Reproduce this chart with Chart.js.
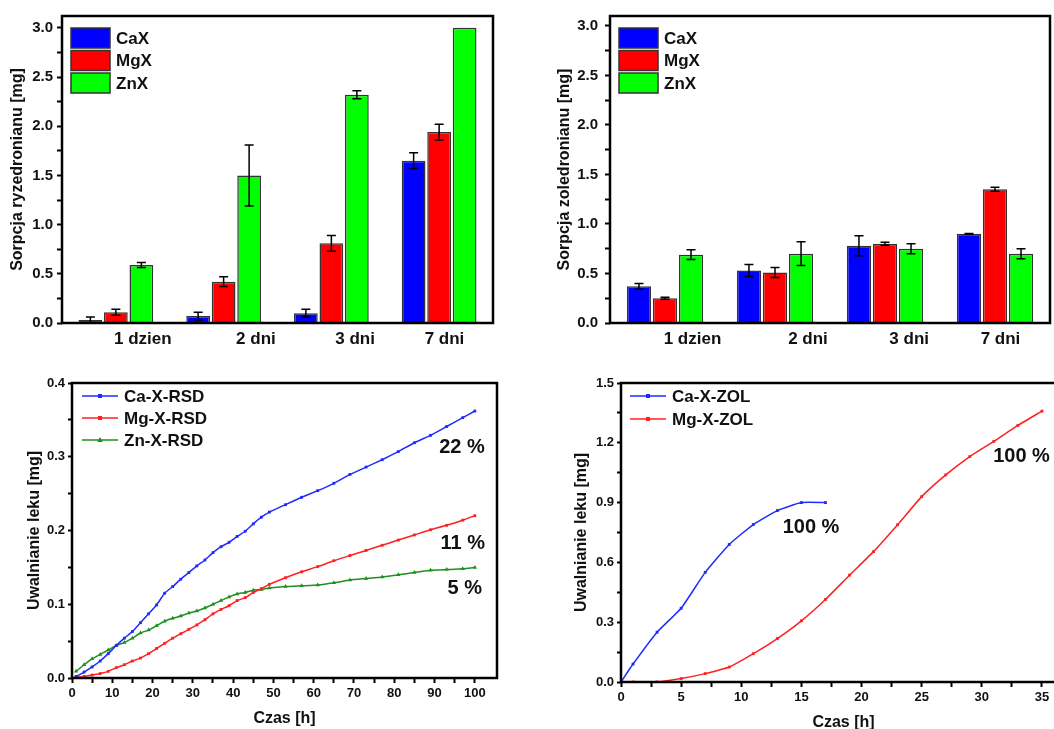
<!DOCTYPE html>
<html>
<head>
<meta charset="utf-8">
<script src="https://cdn.jsdelivr.net/npm/chart.js@4.4.0/dist/chart.umd.min.js"></script>
<style>
    html, body { margin: 0; padding: 0; background: #fff; }
    body { width: 1054px; height: 729px; overflow: hidden; position: relative; }
    canvas { position: absolute; }
</style>
</head>
<body>
<canvas id="sorp-rsd" width="527" height="360" style="left:0;top:0"></canvas>
<canvas id="sorp-zol" width="527" height="360" style="left:527px;top:0"></canvas>
<canvas id="rel-rsd" width="527" height="369" style="left:0;top:360px"></canvas>
<canvas id="rel-zol" width="545" height="373" style="left:527px;top:360px"></canvas>
<script>
// === Data: sorption (bars) ===
const days = ["1 dzien", "2 dni", "3 dni", "7 dni"];
const dayLabelShift = [0.25, 0.3, 0.22, 0.05];

const rsdCaX = [0.03, 0.07, 0.10, 1.65];
const rsdCaXErr = [0.03, 0.04, 0.04, 0.08];
const rsdMgX = [0.11, 0.42, 0.81, 1.94];
const rsdMgXErr = [0.03, 0.05, 0.08, 0.08];
const rsdZnX = [0.59, 1.50, 2.32, 3.00];
const rsdZnXErr = [0.025, 0.31, 0.04, 0];

const zolCaX = [0.37, 0.53, 0.78, 0.90];
const zolCaXErr = [0.03, 0.06, 0.10, 0.005];
const zolMgX = [0.25, 0.51, 0.80, 1.35];
const zolMgXErr = [0.01, 0.05, 0.015, 0.02];
const zolZnX = [0.69, 0.70, 0.75, 0.70];
const zolZnXErr = [0.05, 0.12, 0.05, 0.05];

const sorpTicks = [0, 0.5, 1.0, 1.5, 2.0, 2.5, 3.0];

// === Data: release (lines) ===
const rsdHours = [1, 3, 5, 7, 9, 11, 13, 15, 17, 19, 21, 23, 25, 27, 29, 31, 33, 35, 37, 39, 41, 43, 45, 47, 49,
    53, 57, 61, 65, 69, 73, 77, 81, 85, 89, 93, 97, 100];
const relCaRsd = [0.002, 0.008, 0.015, 0.023, 0.033, 0.044, 0.054, 0.063, 0.075, 0.087, 0.099, 0.115, 0.124,
    0.134, 0.143, 0.152, 0.160, 0.170, 0.178, 0.184, 0.192, 0.199, 0.209, 0.218, 0.225,
    0.235, 0.245, 0.254, 0.264, 0.276, 0.286, 0.296, 0.307, 0.319, 0.329, 0.341, 0.353, 0.362];
const relMgRsd = [0.001, 0.002, 0.004, 0.006, 0.009, 0.014, 0.018, 0.023, 0.027, 0.033, 0.040, 0.047, 0.054,
    0.060, 0.066, 0.072, 0.079, 0.087, 0.093, 0.098, 0.105, 0.109, 0.116, 0.121, 0.127,
    0.136, 0.144, 0.151, 0.159, 0.166, 0.173, 0.180, 0.187, 0.194, 0.201, 0.207, 0.214, 0.220];
const relZnRsd = [0.009, 0.018, 0.026, 0.032, 0.038, 0.044, 0.048, 0.054, 0.061, 0.065, 0.071, 0.077, 0.081,
    0.084, 0.088, 0.091, 0.095, 0.100, 0.105, 0.110, 0.114, 0.116, 0.119, 0.120, 0.122,
    0.124, 0.125, 0.126, 0.129, 0.133, 0.135, 0.137, 0.140, 0.143, 0.146, 0.147, 0.148, 0.150];
const rsdXTicks = [0, 10, 20, 30, 40, 50, 60, 70, 80, 90, 100];
const rsdYTicks = [0, 0.1, 0.2, 0.3, 0.4];

const zolHoursCa = [0, 1, 3, 5, 7, 9, 11, 13, 15, 17];
const relCaZol = [0, 0.09, 0.25, 0.37, 0.55, 0.69, 0.79, 0.86, 0.90, 0.90];
const zolHoursMg = [0, 1, 3, 5, 7, 9, 11, 13, 15, 17, 19, 21, 23, 25, 27, 29, 31, 33, 35];
const relMgZol = [0, 0, 0, 0.017, 0.042, 0.075, 0.142, 0.218, 0.307, 0.414, 0.536, 0.654, 0.789, 0.930,
    1.039, 1.131, 1.207, 1.287, 1.359];
const zolXTicks = [0, 5, 10, 15, 20, 25, 30, 35];
const zolYTicks = [0, 0.3, 0.6, 0.9, 1.2, 1.5];

// === Styling helpers ===
const FONT = "'Liberation Sans', Arial, Helvetica, sans-serif";
const INK = "#111";
const bold = (size) => ({ family: FONT, size, weight: "bold" });

const withMinor = (majors) => {
    const out = [];
    majors.forEach((v, i) => {
        out.push(v);
        if (i < majors.length - 1) out.push((v + majors[i + 1]) / 2);
    });
    return out;
};

const tickGrid = (len) => ({
    drawOnChartArea: false,
    drawTicks: true,
    tickLength: len,
    tickWidth: 2,
    tickColor: "#000",
});

const valueAxis = (majors, min, max, opts) => ({
    type: "linear",
    min,
    max,
    offset: false,
    position: opts.position,
    afterBuildTicks: (s) => { s.ticks = withMinor(majors).map((v) => ({ value: v })); },
    afterFit: (s) => {
        if (opts.position === "left") s.width = opts.size;
        else s.height = opts.size;
    },
    ticks: {
        autoSkip: false,
        maxRotation: 0,
        padding: opts.pad,
        color: INK,
        font: bold(opts.font),
        callback: (v) => (majors.includes(v) ? opts.fmt(v) : ""),
    },
    grid: tickGrid(opts.tick),
    border: { display: false },
    title: {
        display: true,
        text: opts.title,
        color: INK,
        font: bold(16),
        padding: opts.titlePad,
    },
});

// === Plugins ===
const framePlugin = {
    id: "frame",
    afterDraw(chart) {
        const { ctx, chartArea: a } = chart;
        ctx.save();
        ctx.lineWidth = 2.5;
        ctx.strokeStyle = "#000";
        ctx.strokeRect(a.left, a.top, a.right - a.left, a.bottom - a.top);
        ctx.restore();
    },
};

const errorBarPlugin = {
    id: "errorBars",
    afterDatasetsDraw(chart) {
        const { ctx } = chart;
        const yScale = chart.scales.y;
        ctx.save();
        ctx.strokeStyle = "#000";
        ctx.lineWidth = 1.5;
        chart.data.datasets.forEach((ds, i) => {
            if (!ds.errors) return;
            chart.getDatasetMeta(i).data.forEach((bar, j) => {
                const err = ds.errors[j];
                if (!err) return;
                const v = ds.data[j];
                const top = yScale.getPixelForValue(v + err);
                const bot = yScale.getPixelForValue(Math.max(0, v - err));
                const cap = 4.5;
                ctx.beginPath();
                ctx.moveTo(bar.x, top); ctx.lineTo(bar.x, bot);
                ctx.moveTo(bar.x - cap, top); ctx.lineTo(bar.x + cap, top);
                ctx.moveTo(bar.x - cap, bot); ctx.lineTo(bar.x + cap, bot);
                ctx.stroke();
            });
        });
        ctx.restore();
    },
};

const drawMarker = (ctx, style, x, y, r, color) => {
    ctx.fillStyle = color;
    ctx.beginPath();
    if (style === "triangle") {
        ctx.moveTo(x, y - r * 1.2);
        ctx.lineTo(x + r * 1.1, y + r * 0.8);
        ctx.lineTo(x - r * 1.1, y + r * 0.8);
        ctx.closePath();
    } else {
        ctx.rect(x - r, y - r, r * 2, r * 2);
    }
    ctx.fill();
};

const boxLegend = (cfg) => ({
    id: "boxLegend",
    afterDraw(chart) {
        const { ctx, chartArea: a } = chart;
        ctx.save();
        ctx.font = `bold 17px ${FONT}`;
        ctx.textBaseline = "middle";
        ctx.fillStyle = INK;
        chart.data.datasets.forEach((ds, i) => {
            const x = a.left + cfg.dx;
            const y = a.top + cfg.dy + i * cfg.gap;
            if (cfg.kind === "bar") {
                ctx.fillStyle = ds.backgroundColor;
                ctx.fillRect(x, y, cfg.w, cfg.h);
                ctx.strokeStyle = "#333";
                ctx.lineWidth = 1.5;
                ctx.strokeRect(x, y, cfg.w, cfg.h);
                ctx.fillStyle = INK;
                ctx.fillText(ds.label, x + cfg.w + cfg.textGap, y + cfg.h / 2 + 1);
            } else {
                ctx.strokeStyle = ds.borderColor;
                ctx.lineWidth = 1.5;
                ctx.beginPath();
                ctx.moveTo(x, y);
                ctx.lineTo(x + cfg.w, y);
                ctx.stroke();
                drawMarker(ctx, ds.pointStyle, x + cfg.w / 2, y, ds.pointRadius, ds.borderColor);
                ctx.fillStyle = INK;
                ctx.fillText(ds.label, x + cfg.w + cfg.textGap, y + 1);
            }
        });
        ctx.restore();
    },
});

const notesPlugin = (notes) => ({
    id: "notes",
    afterDraw(chart) {
        const { ctx, scales } = chart;
        ctx.save();
        ctx.font = `bold 20px ${FONT}`;
        ctx.textAlign = "center";
        ctx.textBaseline = "middle";
        ctx.fillStyle = INK;
        notes.forEach((n) => {
            ctx.fillText(n.text, scales.x.getPixelForValue(n.x), scales.y.getPixelForValue(n.y));
        });
        ctx.restore();
    },
});

// === Bar charts ===
const barDataset = (label, data, errors, color) => ({
    label,
    data,
    errors,
    backgroundColor: color,
    borderColor: "#333",
    borderWidth: 1.5,
    categoryPercentage: 0.71,
    barPercentage: 0.93,
});

const makeBarChart = (id, sets, opts) => new Chart(document.getElementById(id), {
    type: "bar",
    data: { labels: days, datasets: sets },
    options: {
        responsive: false,
        animation: false,
        events: [],
        layout: { padding: opts.padding },
        plugins: { legend: { display: false }, tooltip: { enabled: false } },
        scales: {
            x: { type: "category", display: false },
            xl: {
                type: "linear",
                position: "bottom",
                offset: false,
                min: -0.5,
                max: 3.5,
                afterBuildTicks: (s) => { s.ticks = dayLabelShift.map((d, i) => ({ value: i + d })); },
                afterFit: (s) => { s.height = 37; },
                ticks: {
                    autoSkip: false,
                    maxRotation: 0,
                    padding: 6,
                    color: INK,
                    font: bold(17),
                    callback: (v, i) => days[i],
                },
                grid: { display: false, drawTicks: false, offset: false },
                border: { display: false },
            },
            y: valueAxis(sorpTicks, 0, opts.yMax, {
                position: "left",
                size: opts.yWidth,
                pad: opts.tickPad,
                tick: 5,
                font: 15,
                fmt: (v) => v.toFixed(1),
                title: opts.title,
                titlePad: { top: opts.titleTop, bottom: 0 },
            }),
        },
    },
    plugins: [errorBarPlugin, framePlugin,
        boxLegend({ kind: "bar", dx: 9, dy: 12, w: 39, h: 20, gap: 22.5, textGap: 6 })],
});

makeBarChart("sorp-rsd", [
    barDataset("CaX", rsdCaX, rsdCaXErr, "#0000ff"),
    barDataset("MgX", rsdMgX, rsdMgXErr, "#ff0000"),
    barDataset("ZnX", rsdZnX, rsdZnXErr, "#00ff00"),
], {
    padding: { left: 0, top: 16, right: 34, bottom: 0 },
    yMax: 3.12, yWidth: 62, tickPad: 4, titleTop: 8,
    title: "Sorpcja ryzedronianu [mg]",
});

makeBarChart("sorp-zol", [
    barDataset("CaX", zolCaX, zolCaXErr, "#0000ff"),
    barDataset("MgX", zolMgX, zolMgXErr, "#ff0000"),
    barDataset("ZnX", zolZnX, zolZnXErr, "#00ff00"),
], {
    padding: { left: 0, top: 15, right: 4, bottom: 0 },
    yMax: 3.1, yWidth: 83, tickPad: 7, titleTop: 28,
    title: "Sorpcja zoledronianu [mg]",
});

// === Line charts ===
const lineDataset = (label, xs, ys, color, style) => ({
    label,
    data: xs.map((x, i) => ({ x, y: ys[i] })),
    borderColor: color,
    backgroundColor: color,
    borderWidth: 1.5,
    pointStyle: style,
    pointRadius: style === "triangle" ? 2.5 : 2,
    pointBackgroundColor: color,
    pointBorderWidth: 0,
    tension: 0.15,
});

const makeLineChart = (id, sets, opts) => new Chart(document.getElementById(id), {
    type: "line",
    data: { datasets: sets },
    options: {
        responsive: false,
        animation: false,
        events: [],
        layout: { padding: opts.padding },
        plugins: { legend: { display: false }, tooltip: { enabled: false } },
        scales: {
            x: valueAxis(opts.xTicks, 0, opts.xMax, {
                position: "bottom",
                size: opts.xHeight,
                pad: 3,
                tick: 5,
                font: 13,
                fmt: (v) => String(v),
                title: "Czas [h]",
                titlePad: { top: 0, bottom: 1 },
            }),
            y: valueAxis(opts.yTicks, 0, opts.yMax, {
                position: "left",
                size: opts.yWidth,
                pad: 3,
                tick: 4,
                font: 13,
                fmt: (v) => v.toFixed(1),
                title: "Uwalnianie leku [mg]",
                titlePad: { top: opts.titleTop, bottom: 0 },
            }),
        },
    },
    plugins: [framePlugin, notesPlugin(opts.notes),
        boxLegend({ kind: "line", dx: opts.legendDx, dy: 13, w: 36, gap: opts.legendGap, textGap: 6 })],
});

makeLineChart("rel-rsd", [
    lineDataset("Ca-X-RSD", rsdHours, relCaRsd, "#1f2bff", "rect"),
    lineDataset("Mg-X-RSD", rsdHours, relMgRsd, "#ff2020", "rect"),
    lineDataset("Zn-X-RSD", rsdHours, relZnRsd, "#1f8f1f", "triangle"),
], {
    padding: { left: 0, top: 23, right: 30, bottom: 0 },
    xTicks: rsdXTicks, xMax: 105.5, xHeight: 51,
    yTicks: rsdYTicks, yMax: 0.4, yWidth: 72, titleTop: 25,
    legendDx: 10, legendGap: 22,
    notes: [
        { text: "22 %", x: 96.8, y: 0.313 },
        { text: "11 %", x: 97, y: 0.183 },
        { text: "5 %", x: 97.5, y: 0.122 },
    ],
});

makeLineChart("rel-zol", [
    lineDataset("Ca-X-ZOL", zolHoursCa, relCaZol, "#1f2bff", "rect"),
    lineDataset("Mg-X-ZOL", zolHoursMg, relMgZol, "#ff2020", "rect"),
], {
    padding: { left: 0, top: 23, right: 6, bottom: 0 },
    xTicks: zolXTicks, xMax: 37, xHeight: 51,
    yTicks: zolYTicks, yMax: 1.5, yWidth: 94, titleTop: 45,
    legendDx: 9, legendGap: 23,
    notes: [
        { text: "100 %", x: 15.8, y: 0.773 },
        { text: "100 %", x: 33.3, y: 1.129 },
    ],
});
</script>
</body>
</html>
